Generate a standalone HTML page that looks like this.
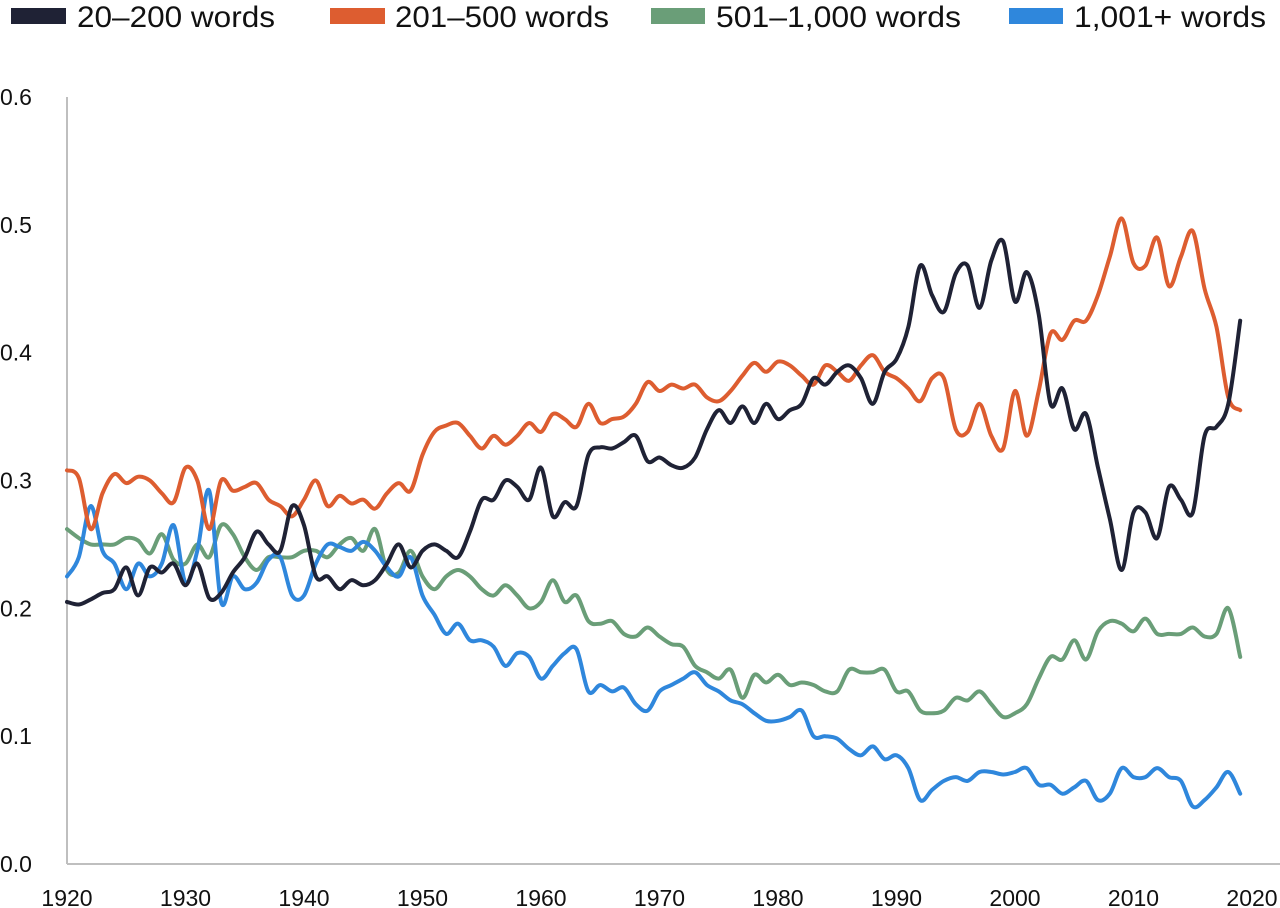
<!DOCTYPE html>
<html><head><meta charset="utf-8"><style>
html,body{margin:0;padding:0;background:#fff;}
svg{display:block;font-family:"Liberation Sans",sans-serif;}
</style></head><body>
<svg id="chart" width="1280" height="908" viewBox="0 0 1280 908" xmlns="http://www.w3.org/2000/svg">
<g id="legend"></g>
<g id="axes"></g>
<g id="series"></g>
</svg>
<script>
const years = Array.from({length:100},(_,i)=>1920+i);
const yTicks = [0,0.1,0.2,0.3,0.4,0.5,0.6];
const yTickLabels = ["0.0","0.1","0.2","0.3","0.4","0.5","0.6"];
const xTicks = [1920,1930,1940,1950,1960,1970,1980,1990,2000,2010,2020];
const seriesNames = ["20\u2013200 words","201\u2013500 words","501\u20131,000 words","1,001+ words"];
const words20_200 = [.205,.203,.207,.212,.215,.232,.21,.232,.228,.235,.218,.235,.208,.212,.228,.24,.26,.25,.245,.28,.265,.225,.225,.215,.222,.218,.222,.235,.25,.232,.245,.25,.245,.24,.26,.285,.285,.3,.295,.285,.31,.272,.283,.28,.32,.326,.325,.33,.335,.315,.318,.312,.31,.318,.34,.355,.345,.358,.345,.36,.348,.355,.36,.38,.375,.385,.39,.38,.36,.385,.395,.42,.468,.445,.432,.462,.468,.435,.472,.487,.44,.463,.43,.36,.372,.34,.352,.31,.27,.23,.275,.275,.255,.295,.285,.275,.335,.342,.36,.425];
const words201_500 = [.308,.302,.262,.29,.305,.298,.303,.3,.29,.283,.31,.3,.262,.3,.292,.295,.298,.285,.28,.272,.285,.3,.28,.288,.282,.285,.278,.29,.298,.292,.32,.338,.343,.345,.335,.325,.335,.328,.335,.345,.338,.352,.348,.342,.36,.345,.348,.35,.36,.377,.37,.375,.372,.375,.365,.362,.37,.382,.392,.385,.393,.39,.382,.375,.39,.385,.378,.39,.398,.385,.38,.372,.362,.38,.38,.34,.338,.36,.335,.325,.37,.335,.37,.415,.41,.425,.425,.445,.475,.505,.47,.468,.49,.452,.475,.495,.45,.42,.365,.355];
const words501_1000 = [.262,.255,.25,.25,.25,.255,.253,.243,.258,.238,.235,.25,.24,.265,.258,.24,.23,.24,.24,.24,.245,.245,.24,.25,.255,.245,.262,.23,.228,.245,.225,.215,.225,.23,.225,.215,.21,.218,.21,.2,.205,.222,.205,.21,.19,.188,.19,.18,.178,.185,.178,.172,.17,.155,.15,.145,.152,.13,.148,.142,.148,.14,.142,.14,.135,.135,.152,.15,.15,.152,.135,.135,.12,.118,.12,.13,.128,.135,.125,.115,.118,.125,.145,.162,.16,.175,.16,.182,.19,.188,.182,.192,.18,.18,.18,.185,.178,.18,.2,.162];
const words1001 = [.225,.24,.28,.245,.235,.215,.235,.225,.235,.265,.22,.245,.292,.205,.225,.215,.22,.238,.24,.21,.21,.235,.25,.248,.245,.252,.245,.232,.225,.24,.21,.195,.18,.188,.175,.175,.17,.155,.165,.162,.145,.155,.165,.168,.135,.14,.135,.138,.125,.12,.135,.14,.145,.15,.14,.135,.128,.125,.118,.112,.112,.115,.12,.1,.1,.098,.09,.085,.092,.082,.085,.075,.05,.058,.065,.068,.065,.072,.072,.07,.072,.075,.062,.062,.055,.06,.065,.05,.055,.075,.068,.068,.075,.068,.065,.045,.05,.06,.072,.055];

const colors = ["#1f2235","#dd5d30","#6a9e78","#2f87dc"];
const NS="http://www.w3.org/2000/svg";
const X0=67, X1=1252, Y0=864, Y1=97;
const xScale = yr => X0 + (yr-1920)/(2020-1920)*(X1-X0);
const yScale = v => Y0 - v/0.6*(Y0-Y1);
function mk(tag, attrs, parent){const e=document.createElementNS(NS,tag);for(const k in attrs)e.setAttribute(k,attrs[k]);parent.appendChild(e);return e;}

const axes=document.getElementById('axes');
let yl=mk('line',{x1:X0,y1:Y1,x2:X0,y2:Y0,stroke:'#bfbfbf','stroke-width':2},axes);


let xl=mk('line',{x1:X0,y1:Y0,x2:1280,y2:Y0,stroke:'#bfbfbf','stroke-width':2},axes);


yTicks.forEach((v,i)=>{
  const t=mk('text',{x:0,y:yScale(v)+8,'font-size':23,fill:'#111'},axes);
  t.textContent=yTickLabels[i];
  
  
});
xTicks.forEach(yr=>{
  const t=mk('text',{x:Math.min(xScale(yr),1254),y:906,'font-size':23,fill:'#111','text-anchor':'middle'},axes);
  t.textContent=String(yr);
  
  
});

const leg=document.getElementById('legend');
const legLayout=[[11,66,77,275],[330,385,395,609],[651,705,716,961],[1009,1063,1074,1266]];
seriesNames.forEach((n,i)=>{
  const L=legLayout[i];
  const r=mk('rect',{x:L[0],y:8,width:L[1]-L[0],height:16,fill:colors[i]},leg);
  
  
  const t=mk('text',{x:L[2],y:27,'font-size':30,fill:'#111',textLength:L[3]-L[2],lengthAdjust:'spacingAndGlyphs'},leg);
  t.textContent=n;
  
  
});

function smoothPath(vals){
  const p=vals.map((v,i)=>[xScale(years[i]),yScale(v)]);
  let d='M'+p[0][0].toFixed(1)+','+p[0][1].toFixed(1);
  for(let i=0;i<p.length-1;i++){
    const a=p[Math.max(0,i-1)],b=p[i],c=p[i+1],e=p[Math.min(p.length-1,i+2)];
    const c1=[b[0]+(c[0]-a[0])/6,b[1]+(c[1]-a[1])/6];
    const c2=[c[0]-(e[0]-b[0])/6,c[1]-(e[1]-b[1])/6];
    d+=`C${c1[0].toFixed(1)},${c1[1].toFixed(1)} ${c2[0].toFixed(1)},${c2[1].toFixed(1)} ${c[0].toFixed(1)},${c[1].toFixed(1)}`;
  }
  return d;
}
const ser=document.getElementById('series');
const order=[[words501_1000,2,'line-501-1000'],[words1001,3,'line-1001-plus'],[words201_500,1,'line-201-500'],[words20_200,0,'line-20-200']];
order.forEach(([vals,ci,name])=>{
  const pth=mk('path',{d:smoothPath(vals),fill:'none',stroke:colors[ci],'stroke-width':4,'stroke-linejoin':'round','stroke-linecap':'round'},ser);
  
  
});
</script>
</body></html>
